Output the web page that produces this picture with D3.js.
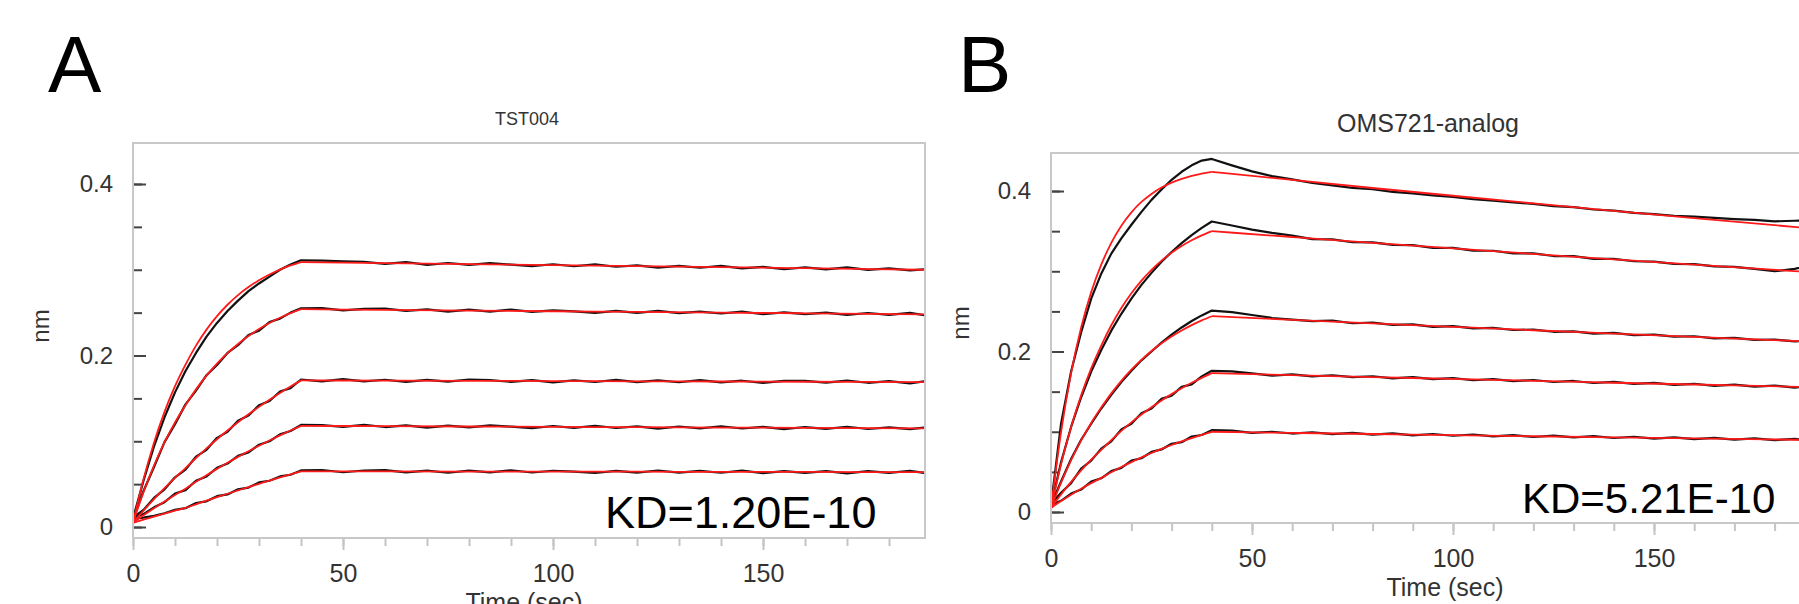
<!DOCTYPE html>
<html>
<head>
<meta charset="utf-8">
<script src="https://cdn.jsdelivr.net/npm/d3@7"></script>
<style>
body { margin: 0; background: #fff; }
svg text { font-family: "Liberation Sans", Arial, sans-serif; }
</style>
</head>
<body>
<svg id="chart" width="1799" height="604"></svg>
<script>
// time grids (sec)
var tAssoc = [0, 2.5, 5, 7.5, 10, 12.5, 15, 17.5, 20, 22.5, 25, 27.5, 30, 32.5, 35, 37.5, 40];
var tFitDiss = [40, 60, 80, 100, 120, 140, 160, 188.6];
var tRawDiss = [45, 50, 55, 60, 65, 70, 75, 80, 85, 90, 95, 100, 105, 110, 115, 120, 125, 130, 135, 140, 145, 150, 155, 160, 165, 170, 175, 180, 185, 188.6];

var xTicks = [0, 50, 100, 150];
var xMinorTicks = [0, 10, 20, 30, 40, 50, 60, 70, 80, 90, 100, 110, 120, 130, 140, 150, 160, 170, 180];
var yTicks = [0, 0.2, 0.4];
var yMinorTicks = [0, 0.05, 0.1, 0.15, 0.2, 0.25, 0.3, 0.35, 0.4];

// ---- panel A : TST004 ----
var fitAssocA = [
    [0.005, 0.0557, 0.0983, 0.1342, 0.1642, 0.1894, 0.2115, 0.2302, 0.2459, 0.2592, 0.2704, 0.2798, 0.2878, 0.2945, 0.3002, 0.3050, 0.309],
    [0.005, 0.0407, 0.0717, 0.0986, 0.1219, 0.1420, 0.1605, 0.1766, 0.1906, 0.2028, 0.2135, 0.2228, 0.2308, 0.2379, 0.2440, 0.2494, 0.254],
    [0.005, 0.0191, 0.0326, 0.0453, 0.0573, 0.0687, 0.0805, 0.0917, 0.1024, 0.1125, 0.1222, 0.1314, 0.1401, 0.1484, 0.1563, 0.1638, 0.171],
    [0.005, 0.0136, 0.0219, 0.0298, 0.0374, 0.0447, 0.0527, 0.0604, 0.0678, 0.0749, 0.0818, 0.0884, 0.0948, 0.1009, 0.1068, 0.1125, 0.118],
    [0.005, 0.0086, 0.0122, 0.0156, 0.0190, 0.0223, 0.0265, 0.0307, 0.0348, 0.0388, 0.0427, 0.0466, 0.0504, 0.0542, 0.0578, 0.0615, 0.065]
];
var fitDissA = [
    [0.309, 0.3078, 0.3066, 0.3054, 0.3042, 0.3030, 0.3018, 0.3000],
    [0.254, 0.2532, 0.2524, 0.2516, 0.2508, 0.2500, 0.2492, 0.2480],
    [0.171, 0.1707, 0.1705, 0.1702, 0.1699, 0.1697, 0.1694, 0.1690],
    [0.118, 0.1176, 0.1172, 0.1168, 0.1164, 0.1160, 0.1156, 0.1150],
    [0.065, 0.0649, 0.0647, 0.0646, 0.0645, 0.0643, 0.0642, 0.0640]
];
var rawAssocA = [
    [0.010, 0.054, 0.094, 0.128, 0.157, 0.182, 0.203, 0.222, 0.238, 0.252, 0.264, 0.275, 0.284, 0.292, 0.300, 0.306, 0.311],
    [0.009, 0.042, 0.070, 0.099, 0.120, 0.143, 0.159, 0.177, 0.189, 0.203, 0.212, 0.224, 0.229, 0.239, 0.243, 0.250, 0.255],
    [0.011, 0.020, 0.034, 0.044, 0.058, 0.067, 0.082, 0.090, 0.104, 0.111, 0.124, 0.130, 0.142, 0.147, 0.158, 0.162, 0.172],
    [0.012, 0.015, 0.023, 0.029, 0.039, 0.043, 0.054, 0.059, 0.069, 0.074, 0.083, 0.087, 0.096, 0.100, 0.108, 0.112, 0.119],
    [0.010, 0.011, 0.013, 0.016, 0.020, 0.022, 0.028, 0.030, 0.036, 0.038, 0.044, 0.046, 0.052, 0.054, 0.059, 0.061, 0.066]
];
var rawDissA = [
    [0.3107, 0.3099, 0.3091, 0.3068, 0.3090, 0.3057, 0.3079, 0.3056, 0.3078, 0.3060, 0.3042, 0.3064, 0.3041, 0.3063, 0.3035, 0.3052, 0.3024, 0.3046, 0.3023, 0.3045, 0.3017, 0.3034, 0.3006, 0.3028, 0.3005, 0.3027, 0.2999, 0.3016, 0.2993, 0.3005],
    [0.2553, 0.2526, 0.2544, 0.2547, 0.2520, 0.2538, 0.2511, 0.2534, 0.2512, 0.2535, 0.2508, 0.2526, 0.2514, 0.2497, 0.2520, 0.2498, 0.2521, 0.2494, 0.2512, 0.2490, 0.2511, 0.2481, 0.2504, 0.2482, 0.2500, 0.2473, 0.2496, 0.2474, 0.2497, 0.2470],
    [0.1699, 0.1724, 0.1698, 0.1717, 0.1692, 0.1716, 0.1695, 0.1720, 0.1714, 0.1693, 0.1713, 0.1687, 0.1711, 0.1691, 0.1715, 0.1689, 0.1709, 0.1688, 0.1712, 0.1687, 0.1706, 0.1680, 0.1705, 0.1704, 0.1683, 0.1708, 0.1682, 0.1701, 0.1676, 0.1700],
    [0.1189, 0.1168, 0.1192, 0.1166, 0.1185, 0.1159, 0.1183, 0.1162, 0.1186, 0.1170, 0.1154, 0.1178, 0.1157, 0.1181, 0.1155, 0.1174, 0.1148, 0.1172, 0.1151, 0.1175, 0.1149, 0.1168, 0.1142, 0.1166, 0.1145, 0.1169, 0.1143, 0.1162, 0.1141, 0.1160],
    [0.0665, 0.0639, 0.0659, 0.0664, 0.0638, 0.0658, 0.0633, 0.0657, 0.0637, 0.0662, 0.0636, 0.0656, 0.0646, 0.0630, 0.0655, 0.0635, 0.0659, 0.0634, 0.0654, 0.0633, 0.0658, 0.0628, 0.0652, 0.0632, 0.0652, 0.0626, 0.0651, 0.0631, 0.0655, 0.0630]
];

// ---- panel B : OMS721-analog ----
var fitAssocB = [
    [0.005, 0.0995, 0.1730, 0.2299, 0.2740, 0.3082, 0.3355, 0.3568, 0.3735, 0.3864, 0.3964, 0.4043, 0.4104, 0.4151, 0.4189, 0.4218, 0.424],
    [0.005, 0.0595, 0.1058, 0.1453, 0.1789, 0.2074, 0.2327, 0.2542, 0.2726, 0.2884, 0.3018, 0.3133, 0.3231, 0.3315, 0.3386, 0.3447, 0.350],
    [0.005, 0.0367, 0.0647, 0.0893, 0.1110, 0.1301, 0.1478, 0.1635, 0.1774, 0.1897, 0.2006, 0.2102, 0.2187, 0.2262, 0.2329, 0.2388, 0.244],
    [0.005, 0.0219, 0.0375, 0.0519, 0.0652, 0.0774, 0.0897, 0.1011, 0.1117, 0.1215, 0.1306, 0.1391, 0.1469, 0.1542, 0.1610, 0.1672, 0.173],
    [0.005, 0.0136, 0.0216, 0.0291, 0.0360, 0.0425, 0.0495, 0.0561, 0.0622, 0.0681, 0.0735, 0.0787, 0.0835, 0.0880, 0.0922, 0.0962, 0.100]
];
var fitDissB = [
    [0.424, 0.4138, 0.4038, 0.3941, 0.3846, 0.3753, 0.3662, 0.3537],
    [0.350, 0.3427, 0.3355, 0.3285, 0.3216, 0.3148, 0.3082, 0.2991],
    [0.244, 0.2395, 0.2351, 0.2308, 0.2265, 0.2224, 0.2183, 0.2125],
    [0.173, 0.1706, 0.1682, 0.1658, 0.1635, 0.1611, 0.1589, 0.1557],
    [0.100, 0.0986, 0.0972, 0.0958, 0.0944, 0.0931, 0.0917, 0.0899]
];
var rawAssocB = [
    [0.008, 0.110, 0.175, 0.224, 0.266, 0.297, 0.322, 0.341, 0.358, 0.374, 0.389, 0.402, 0.414, 0.424, 0.432, 0.438, 0.440],
    [0.008, 0.062, 0.106, 0.143, 0.175, 0.202, 0.226, 0.247, 0.266, 0.283, 0.298, 0.312, 0.324, 0.335, 0.345, 0.354, 0.362],
    [0.009, 0.038, 0.066, 0.090, 0.110, 0.129, 0.146, 0.162, 0.176, 0.189, 0.200, 0.211, 0.221, 0.230, 0.238, 0.245, 0.251],
    [0.010, 0.024, 0.036, 0.054, 0.064, 0.079, 0.088, 0.103, 0.110, 0.123, 0.129, 0.141, 0.145, 0.156, 0.159, 0.169, 0.176],
    [0.009, 0.014, 0.023, 0.028, 0.038, 0.042, 0.051, 0.055, 0.064, 0.067, 0.075, 0.078, 0.085, 0.087, 0.094, 0.096, 0.102]
];
var rawDissB = [
    [0.4320, 0.4245, 0.4185, 0.4145, 0.4100, 0.4070, 0.4040, 0.4022, 0.3990, 0.3972, 0.3945, 0.3928, 0.3900, 0.3880, 0.3858, 0.3840, 0.3812, 0.3800, 0.3770, 0.3755, 0.3728, 0.3712, 0.3692, 0.3680, 0.3665, 0.3650, 0.3640, 0.3622, 0.3630, 0.3635],
    [0.3570, 0.3520, 0.3478, 0.3445, 0.3400, 0.3398, 0.3362, 0.3360, 0.3328, 0.3325, 0.3290, 0.3292, 0.3258, 0.3256, 0.3222, 0.3222, 0.3190, 0.3188, 0.3155, 0.3155, 0.3125, 0.3120, 0.3092, 0.3088, 0.3060, 0.3056, 0.3030, 0.3000, 0.3030, 0.3075],
    [0.2490, 0.2455, 0.2418, 0.2398, 0.2380, 0.2385, 0.2352, 0.2360, 0.2332, 0.2338, 0.2308, 0.2316, 0.2288, 0.2294, 0.2268, 0.2274, 0.2246, 0.2252, 0.2224, 0.2232, 0.2205, 0.2210, 0.2185, 0.2190, 0.2165, 0.2170, 0.2144, 0.2150, 0.2126, 0.2132],
    [0.1752, 0.1728, 0.1700, 0.1716, 0.1690, 0.1704, 0.1680, 0.1692, 0.1666, 0.1680, 0.1655, 0.1668, 0.1642, 0.1656, 0.1630, 0.1645, 0.1620, 0.1633, 0.1608, 0.1621, 0.1596, 0.1610, 0.1585, 0.1598, 0.1573, 0.1588, 0.1563, 0.1576, 0.1551, 0.1564],
    [0.1015, 0.0985, 0.1000, 0.0978, 0.0994, 0.0970, 0.0986, 0.0965, 0.0980, 0.0956, 0.0972, 0.0950, 0.0966, 0.0942, 0.0958, 0.0935, 0.0952, 0.0929, 0.0945, 0.0922, 0.0938, 0.0915, 0.0931, 0.0908, 0.0925, 0.0902, 0.0918, 0.0895, 0.0911, 0.0893]
];

var svg = d3.select("#chart");

function drawPanel(p) {
    var g = svg.append("g");
    var x = d3.scaleLinear().domain([0, p.xMax]).range([p.left, p.right]);
    var y = d3.scaleLinear().domain(p.yDomain).range([p.bottom, p.top]);

    // x minor ticks (outward, gray)
    var gxm = g.append("g")
        .attr("transform", "translate(0," + p.bottom + ")")
        .call(d3.axisBottom(x).tickValues(xMinorTicks).tickSize(8).tickFormat(""));
    gxm.select(".domain").remove();
    gxm.selectAll("line").attr("stroke", "#c4c4c4").attr("stroke-width", 2);

    var gx = g.append("g")
        .attr("transform", "translate(0," + p.bottom + ")")
        .call(d3.axisBottom(x).tickValues(xTicks).tickSize(12).tickPadding(14).tickFormat(d3.format("d")));
    gx.select(".domain").remove();
    gx.selectAll("line").attr("stroke", "#c4c4c4").attr("stroke-width", 2);
    gx.selectAll("text").attr("fill", "#333").attr("font-size", 25)
        .style("font-family", "'Liberation Sans', Arial, sans-serif");

    // y ticks (inward, dark)
    var gym = g.append("g")
        .attr("transform", "translate(" + p.left + ",0)")
        .call(d3.axisLeft(y).tickValues(yMinorTicks).tickSize(-9).tickFormat(""));
    gym.select(".domain").remove();
    gym.selectAll("line").attr("stroke", "#444").attr("stroke-width", 2);

    var gy = g.append("g")
        .attr("transform", "translate(" + p.left + ",0)")
        .call(d3.axisLeft(y).tickValues(yTicks).tickSize(-13).tickPadding(20)
            .tickFormat(function(d) { return d === 0 ? "0" : d3.format(".1f")(d); }));
    gy.select(".domain").remove();
    gy.selectAll("line").attr("stroke", "#444").attr("stroke-width", 2);
    gy.selectAll("text").attr("fill", "#333").attr("font-size", 24)
        .style("font-family", "'Liberation Sans', Arial, sans-serif");

    // frame
    g.append("rect")
        .attr("x", p.left).attr("y", p.top)
        .attr("width", p.right - p.left).attr("height", p.bottom - p.top)
        .attr("fill", "none").attr("stroke", "#c8c8c8").attr("stroke-width", 2);

    // clip
    svg.append("clipPath").attr("id", p.id + "clip")
        .append("rect")
        .attr("x", p.left + 1).attr("y", p.top + 1)
        .attr("width", p.right - p.left - 2).attr("height", p.bottom - p.top - 2);
    var plot = g.append("g").attr("clip-path", "url(#" + p.id + "clip)");

    var rawLine = d3.line().x(function(d) { return x(d[0]); }).y(function(d) { return y(d[1]); });
    var fitLine = d3.line().x(function(d) { return x(d[0]); }).y(function(d) { return y(d[1]); })
        .curve(d3.curveMonotoneX);

    // measured traces (black)
    for (var i = 0; i < p.rawAssoc.length; i++) {
        var pts = tAssoc.map(function(t, j) { return [t, p.rawAssoc[i][j]]; })
            .concat(tRawDiss.map(function(t, j) { return [t, p.rawDiss[i][j]]; }));
        plot.append("path")
            .attr("d", rawLine(pts))
            .attr("fill", "none")
            .attr("stroke", "#111")
            .attr("stroke-width", 2.2)
            .attr("stroke-linejoin", "round");
    }

    // fitted curves (red)
    for (var i = 0; i < p.fitAssoc.length; i++) {
        var a = tAssoc.map(function(t, j) { return [t, p.fitAssoc[i][j]]; });
        var b = tFitDiss.map(function(t, j) { return [t, p.fitDiss[i][j]]; });
        [a, b].forEach(function(seg) {
            plot.append("path")
                .attr("d", fitLine(seg))
                .attr("fill", "none")
                .attr("stroke", "#ff1a1a")
                .attr("stroke-width", 1.8);
        });
    }

    // labels
    g.append("text")
        .attr("x", (p.left + p.right) / 2 - 2)
        .attr("y", p.titleY)
        .attr("text-anchor", "middle")
        .attr("font-size", p.titleSize)
        .attr("fill", "#333")
        .text(p.title);

    g.append("text")
        .attr("transform", "translate(" + p.nmX + "," + p.nmY + ") rotate(-90)")
        .attr("text-anchor", "middle")
        .attr("dy", "0.35em")
        .attr("font-size", 24)
        .attr("fill", "#333")
        .text("nm");

    g.append("text")
        .attr("x", p.timeX)
        .attr("y", p.timeY)
        .attr("text-anchor", "middle")
        .attr("font-size", 25)
        .attr("fill", "#333")
        .text("Time (sec)");

    g.append("text")
        .attr("x", p.kdX)
        .attr("y", p.kdY)
        .attr("font-size", p.kdSize)
        .attr("fill", "#000")
        .text(p.kd);

    g.append("text")
        .attr("x", p.letterX)
        .attr("y", 92)
        .attr("font-size", 80)
        .attr("fill", "#000")
        .text(p.letter);
}

drawPanel({
    id: "A", letter: "A", letterX: 48,
    left: 133, right: 925, top: 143, bottom: 538,
    xMax: 188.57, yDomain: [-0.0128, 0.4478],
    title: "TST004", titleY: 125, titleSize: 18,
    nmX: 41, nmY: 326, timeX: 524, timeY: 611,
    kd: "KD=1.20E-10", kdX: 605, kdY: 528, kdSize: 45,
    fitAssoc: fitAssocA, fitDiss: fitDissA, rawAssoc: rawAssocA, rawDiss: rawDissA
});

drawPanel({
    id: "B", letter: "B", letterX: 958,
    left: 1051, right: 1809, top: 153, bottom: 523,
    xMax: 188.56, yDomain: [-0.0137, 0.4474],
    title: "OMS721-analog", titleY: 132, titleSize: 25,
    nmX: 961, nmY: 323, timeX: 1445, timeY: 596,
    kd: "KD=5.21E-10", kdX: 1522, kdY: 513, kdSize: 42,
    fitAssoc: fitAssocB, fitDiss: fitDissB, rawAssoc: rawAssocB, rawDiss: rawDissB
});
</script>
</body>
</html>
